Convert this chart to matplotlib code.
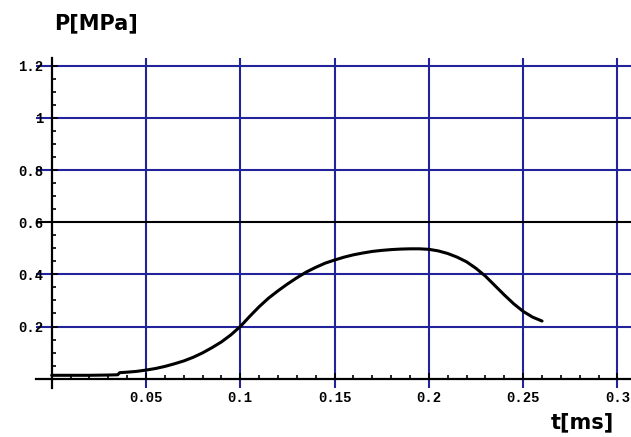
import matplotlib
matplotlib.use("Agg")
import matplotlib.pyplot as plt
from matplotlib.ticker import MultipleLocator

# data
t_ms = [0.0, 0.01, 0.02, 0.03, 0.035, 0.036, 0.04, 0.045, 0.05, 0.055, 0.06, 0.065,
        0.07, 0.075, 0.08, 0.085, 0.09, 0.095, 0.1, 0.105, 0.11, 0.115, 0.12,
        0.125, 0.13, 0.135, 0.14, 0.145, 0.15, 0.155, 0.16, 0.165, 0.17, 0.175,
        0.18, 0.185, 0.19, 0.195, 0.2, 0.205, 0.21, 0.215, 0.22, 0.225, 0.23,
        0.235, 0.24, 0.245, 0.25, 0.255, 0.26]
p_mpa = [0.013, 0.013, 0.013, 0.014, 0.015, 0.023, 0.025, 0.028, 0.033, 0.039, 0.047, 0.057,
         0.068, 0.082, 0.099, 0.119, 0.141, 0.168, 0.2, 0.239, 0.276, 0.309, 0.337,
         0.363, 0.387, 0.409, 0.427, 0.443, 0.455, 0.466, 0.475, 0.482, 0.488, 0.492,
         0.495, 0.497, 0.498, 0.498, 0.496, 0.49, 0.48, 0.466, 0.448, 0.423, 0.393,
         0.357, 0.321, 0.287, 0.258, 0.236, 0.221]

x_ticks = [0.05, 0.1, 0.15, 0.2, 0.25, 0.3]
x_tick_labels = ["0.05", "0.1", "0.15", "0.2", "0.25", "0.3"]
y_ticks = [0.2, 0.4, 0.6, 0.8, 1.0, 1.2]
y_tick_labels = ["0.2", "0.4", "0.6", "0.8", "1", "1.2"]

W, H = 631, 437
fig = plt.figure(figsize=(W / 100, H / 100), dpi=100)
fig.patch.set_facecolor("white")
ax = fig.add_axes([36 / W, (H - 388) / H, 595 / W, 330 / H])
ax.set_xlim(-0.00832, 0.30716)
ax.set_ylim(-0.0357, 1.2297)

for s in ("top", "right"):
    ax.spines[s].set_visible(False)
for s in ("left", "bottom"):
    ax.spines[s].set_position(("data", 0))
    ax.spines[s].set_linewidth(1.6)
    ax.spines[s].set_color("black")

ax.set_xticks(x_ticks)
ax.set_xticklabels(x_tick_labels)
ax.set_yticks(y_ticks)
ax.set_yticklabels(y_tick_labels)
ax.xaxis.set_minor_locator(MultipleLocator(0.01))
ax.yaxis.set_minor_locator(MultipleLocator(0.05))

ax.tick_params(axis="x", which="major", direction="in", length=4, width=1.2,
               pad=9, labelsize=10)
ax.tick_params(axis="y", which="major", direction="in", length=4, width=1.2,
               pad=6.3, labelsize=10)
ax.tick_params(which="minor", direction="in", length=3, width=1.2)
for lab in ax.get_xticklabels() + ax.get_yticklabels():
    lab.set_fontfamily("Liberation Mono")
    lab.set_fontweight("bold")

ax.grid(True, which="major", color="#22229a", linewidth=1.5)
ygl = ax.get_ygridlines()
ygl[2].set_color("black")
ax.set_axisbelow(True)

ax.plot(t_ms, p_mpa, color="black", linewidth=2.2, solid_capstyle="round",
        solid_joinstyle="round", zorder=3)

fig.text(95.5 / W, 1 - 29.5 / H, "P[MPa]", ha="center", va="baseline",
         fontsize=15, fontweight="bold", family="DejaVu Sans")
fig.text(582 / W, 1 - 428 / H, "t[ms]", ha="center", va="baseline",
         fontsize=15, fontweight="bold", family="DejaVu Sans")

fig.savefig("out.png", dpi=100, facecolor="white")
